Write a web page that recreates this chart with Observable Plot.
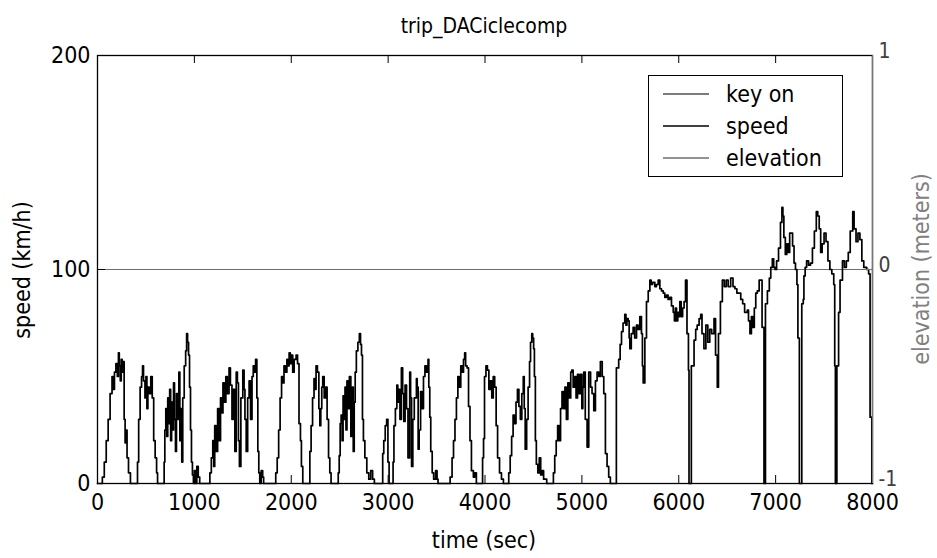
<!DOCTYPE html>
<html><head><meta charset="utf-8">
<script src="https://cdn.jsdelivr.net/npm/d3@7"></script>
<script src="https://cdn.jsdelivr.net/npm/@observablehq/plot@0.6"></script>
<style>
body{margin:0;background:#fff;}
#wrap{position:relative;width:937px;height:558px;overflow:hidden;font-family:"Liberation Sans Narrow","DejaVu Sans Condensed","Liberation Sans",Arial,sans-serif;color:#000;}
#chart{position:absolute;left:0;top:0;}
.txt{position:absolute;white-space:nowrap;}
#title{left:0;width:968px;top:14px;text-align:center;font-size:21px;}
#xlab{left:0;width:968px;top:527px;text-align:center;font-size:23px;}
#ylab{left:22px;top:270px;font-size:23px;transform:translate(-50%,-50%) rotate(-90deg);}
#rlab{left:921px;top:269px;font-size:23px;color:#808080;transform:translate(-50%,-50%) rotate(-90deg);}
#legend{position:absolute;left:648px;top:75px;width:193px;height:100px;border:1.5px solid #000;background:#fff;}
.row{position:absolute;left:0;height:30px;width:193px;}
.row svg{position:absolute;left:14px;top:0;}
.row span{position:absolute;left:77px;top:0;font-size:23px;line-height:30px;}
</style></head>
<body>
<div id="wrap">
  <div id="chart"></div>
  <div class="txt" id="title"></div>
  <div class="txt" id="xlab"></div>
  <div class="txt" id="ylab"></div>
  <div class="txt" id="rlab"></div>
  <div id="legend"></div>
</div>
<script>
const chartTitle = "trip_DACiclecomp";
const xLabel = "time (sec)";
const yLabel = "speed (km/h)";
const rightLabel = "elevation (meters)";
const xTicks = [0,1000,2000,3000,4000,5000,6000,7000,8000];
const speedTicks = [0,100,200];
const elevTicks = [-1,0,1];
const legendNames = ["key on","speed","elevation"];
const legendColors = ["#505050","#000000","#6e6e6e"];

// key on (state 1 shown at 100 on the speed axis) and elevation (meters, right axis)
const keyOnTime = [0, 8000];
const keyOnState = [1, 1];
const elevTime = [0, 8000];
const elevMeters = [0, 0];

// speed trace [time s, speed km/h]
const speedTrace = [
[0,0],[40,0],[50,3],[70,10],[90,20],[110,30],[130,42],[150,50],[160,44],[175,52],[190,56],[205,50],[216,61],[225,55],[235,48],[245,58],[255,52],[265,57],[275,30],[285,19],[295,25],[305,12],[320,5],[340,0],[405,0],[413,10],[425,30],[440,45],[455,50],[465,55],[475,48],[490,40],[500,50],[510,35],[520,45],[535,42],[550,50],[565,40],[580,20],[595,12],[610,5],[620,0],[680,0],[688,10],[695,25],[705,35],[715,22],[725,40],[735,28],[745,44],[755,20],[765,38],[775,25],[785,47],[795,30],[805,15],[815,42],[825,30],[840,52],[850,20],[860,35],[870,10],[880,40],[895,55],[910,62],[920,70],[930,66],[940,60],[950,45],[960,25],[970,10],[980,4],[990,0],
[1000,6],[1010,0],[1025,8],[1040,3],[1055,0],[1150,0],[1160,5],[1175,12],[1190,20],[1200,8],[1210,27],[1225,15],[1240,35],[1255,20],[1270,40],[1285,33],[1295,47],[1310,38],[1325,50],[1340,42],[1358,54],[1372,46],[1388,30],[1402,44],[1418,15],[1432,52],[1444,47],[1455,20],[1465,8],[1480,40],[1500,53],[1513,44],[1522,30],[1535,15],[1550,40],[1565,48],[1580,30],[1595,50],[1608,55],[1620,52],[1632,58],[1645,40],[1655,15],[1665,5],[1675,0],[1690,6],[1705,3],[1715,0],[1830,0],[1840,5],[1855,12],[1870,25],[1885,40],[1900,50],[1912,47],[1925,55],[1940,52],[1955,58],[1965,55],[1978,61],
[1990,56],[2000,60],[2015,52],[2030,58],[2050,60],[2065,56],[2080,28],[2095,20],[2105,8],[2119,0],[2185,0],[2192,15],[2205,27],[2220,40],[2235,49],[2245,44],[2256,55],[2270,52],[2285,35],[2295,27],[2305,35],[2315,45],[2325,50],[2340,40],[2355,45],[2370,30],[2385,12],[2398,5],[2411,0],[2475,0],[2485,5],[2495,13],[2505,28],[2515,32],[2525,20],[2535,41],[2545,30],[2555,45],[2565,25],[2575,48],[2585,35],[2600,50],[2615,22],[2630,45],[2640,15],[2650,38],[2660,52],[2672,62],[2688,66],[2703,70],[2715,65],[2725,60],[2735,30],[2745,20],[2760,12],[2780,5],[2800,2],[2820,6],[2840,2],[2858,0],[2935,0],[2944,14],[2955,20],[2970,27],[2985,30],[2998,10],[3010,0],
[3045,0],[3051,10],[3060,27],[3075,35],[3090,46],[3100,38],[3110,44],[3122,30],[3137,54],[3150,42],[3162,29],[3175,46],[3190,35],[3205,12],[3223,52],[3232,40],[3242,8],[3255,30],[3270,40],[3292,49],[3300,45],[3310,16],[3320,25],[3335,43],[3350,35],[3365,50],[3380,55],[3395,52],[3412,58],[3420,45],[3430,31],[3440,15],[3455,5],[3470,2],[3490,6],[3505,2],[3515,0],[3630,0],[3640,3],[3660,12],[3675,20],[3690,30],[3705,40],[3720,50],[3735,45],[3750,55],[3765,52],[3778,58],[3790,61],[3800,55],[3815,54],[3830,36],[3845,20],[3860,6],[3880,3],[3895,5],[3911,0],[3965,0],[3975,12],[3985,21],
[3995,50],[4010,55],[4025,53],[4040,44],[4055,48],[4070,40],[4085,50],[4100,45],[4115,27],[4130,12],[4150,5],[4170,2],[4190,0],[4238,0],[4245,5],[4260,13],[4275,22],[4290,32],[4305,28],[4320,38],[4335,44],[4350,36],[4365,30],[4380,42],[4395,50],[4405,35],[4415,16],[4430,30],[4445,45],[4460,57],[4470,66],[4483,70],[4492,68],[4502,63],[4510,50],[4520,20],[4530,9],[4545,5],[4560,12],[4575,4],[4590,6],[4605,2],[4637,0],[4700,0],[4706,5],[4720,13],[4735,20],[4750,27],[4765,20],[4780,35],[4795,43],[4810,35],[4825,45],[4840,30],[4855,47],[4870,40],[4885,52],[4896,53],[4910,45],[4925,50],[4940,40],[4955,51],[4970,42],[4985,51],
[5000,35],[5010,45],[5019,52],[5035,30],[5054,17],[5071,52],[5090,45],[5105,42],[5123,34],[5140,48],[5157,52],[5175,50],[5191,57],[5210,50],[5226,42],[5243,14],[5260,8],[5277,3],[5294,0],[5350,0],[5356,54],[5380,58],[5395,65],[5409,71],[5425,75],[5443,79],[5455,74],[5465,77],[5478,76],[5488,68],[5495,63],[5510,70],[5529,73],[5545,68],[5564,74],[5580,72],[5598,78],[5615,70],[5625,55],[5633,47],[5650,68],[5667,85],[5685,90],[5702,95],[5715,93],[5730,94],[5753,92],[5770,93],[5788,95],[5805,91],[5822,90],[5840,89],[5856,87],[5874,88],[5890,86],[5908,87],[5925,83],[5943,80],[5955,76],[5965,82],[5977,76],[5990,80],[6000,78],[6011,85],[6025,78],[6040,82],[6055,85],[6070,95],[6085,70],[6100,53],[6106,0],[6125,0],
[6130,55],[6158,67],[6175,72],[6190,74],[6210,77],[6227,79],[6240,70],[6260,63],[6280,74],[6300,66],[6320,72],[6340,70],[6364,77],[6380,60],[6398,45],[6410,70],[6430,85],[6450,95],[6470,92],[6490,95],[6510,92],[6536,96],[6560,92],[6580,91],[6600,89],[6622,89],[6640,86],[6660,84],[6680,80],[6708,81],[6720,76],[6735,70],[6750,78],[6765,73],[6780,82],[6795,89],[6811,90],[6830,95],[6846,95],[6860,73],[6875,73],[6880,0],[6890,0],[6895,84],[6915,90],[6935,96],[6950,101],[6966,105],[6980,101],
[6995,100],[7010,104],[7030,110],[7050,122],[7065,129],[7075,125],[7085,115],[7100,107],[7115,112],[7130,108],[7145,117],[7160,117],[7175,111],[7190,103],[7205,100],[7220,93],[7230,68],[7240,68],[7245,0],[7265,0],[7270,84],[7285,86],[7292,97],[7305,101],[7320,104],[7340,102],[7360,103],[7380,110],[7400,118],[7420,127],[7435,125],[7450,119],[7465,108],[7480,112],[7500,117],[7520,113],[7540,104],[7560,100],[7580,98],[7600,93],[7610,55],[7617,0],[7628,0],[7632,55],[7650,80],[7665,95],[7690,104],[7710,101],[7730,104],[7750,108],[7770,118],[7796,127],[7810,119],[7830,113],[7850,117],[7870,114],[7890,104],[7910,101],[7940,100],[7960,98],[7975,31],[7993,0],[8000,0]
];

const speedData = speedTrace.map(([t, v]) => ({t, v}));
const keyOnData = keyOnTime.map((t, i) => ({t, v: keyOnState[i] * 100}));
const elevData = elevTime.map((t, i) => ({t, v: (elevMeters[i] + 1) * 100}));

const font = '"Liberation Sans Narrow","DejaVu Sans Condensed","Liberation Sans",Arial,sans-serif';
const tickLenX = 8000 * 8 / 775;
const tickLenY = 200 * 8 / 428;

const plot = Plot.plot({
  width: 937, height: 558,
  marginLeft: 97, marginRight: 65, marginTop: 55, marginBottom: 75,
  x: {domain: [0, 8000]},
  y: {domain: [0, 200]},
  style: {fontFamily: font, fontSize: "23px", background: "transparent", color: "#000", overflow: "visible"},
  marks: [
    Plot.line(keyOnData, {x: "t", y: "v", stroke: legendColors[0], strokeWidth: 1.2}),
    Plot.line(elevData, {x: "t", y: "v", stroke: legendColors[2], strokeWidth: 1.2}),
    Plot.line(speedData, {x: "t", y: "v", stroke: legendColors[1], strokeWidth: 1.7, curve: "step-after"}),
    Plot.ruleX(xTicks, {y1: 0, y2: tickLenY, stroke: "#000"}),
    Plot.ruleX(xTicks, {y1: 200 - tickLenY, y2: 200, stroke: "#000"}),
    Plot.ruleY(speedTicks, {x1: 0, x2: tickLenX, stroke: "#000"}),
    Plot.ruleY(elevTicks.map(e => (e + 1) * 100), {x1: 8000 - tickLenX, x2: 8000, stroke: "#777"}),
    Plot.frame({stroke: "#000", strokeWidth: 1.3}),
    Plot.ruleX([8000], {stroke: "#777", strokeWidth: 1.3}),
    Plot.axisX({ticks: xTicks, tickSize: 0, tickPadding: 10, label: null, tickFormat: d => String(d), fontSize: 23}),
    Plot.axisY({anchor: "left", ticks: speedTicks, tickSize: 0, tickPadding: 7, label: null, tickFormat: d => String(d), fontSize: 23}),
    Plot.axisY({anchor: "right", ticks: elevTicks.map(e => (e + 1) * 100), tickSize: 0, tickPadding: 6, label: null, dy: -4,
      tickFormat: d => String(d / 100 - 1), fontSize: 21, fill: "#404040"})
  ]
});
document.getElementById("chart").appendChild(plot);
document.getElementById("title").textContent = chartTitle;
document.getElementById("xlab").textContent = xLabel;
document.getElementById("ylab").textContent = yLabel;
document.getElementById("rlab").textContent = rightLabel;

const legend = document.getElementById("legend");
legendNames.forEach((name, i) => {
  const row = document.createElement("div");
  row.className = "row";
  row.style.top = (3 + i * 32) + "px";
  row.innerHTML = `<svg width="48" height="30"><line x1="0" x2="46" y1="15" y2="15" stroke="${legendColors[i]}" stroke-width="1.5"/></svg><span>${name}</span>`;
  legend.appendChild(row);
});
</script>
</body></html>
